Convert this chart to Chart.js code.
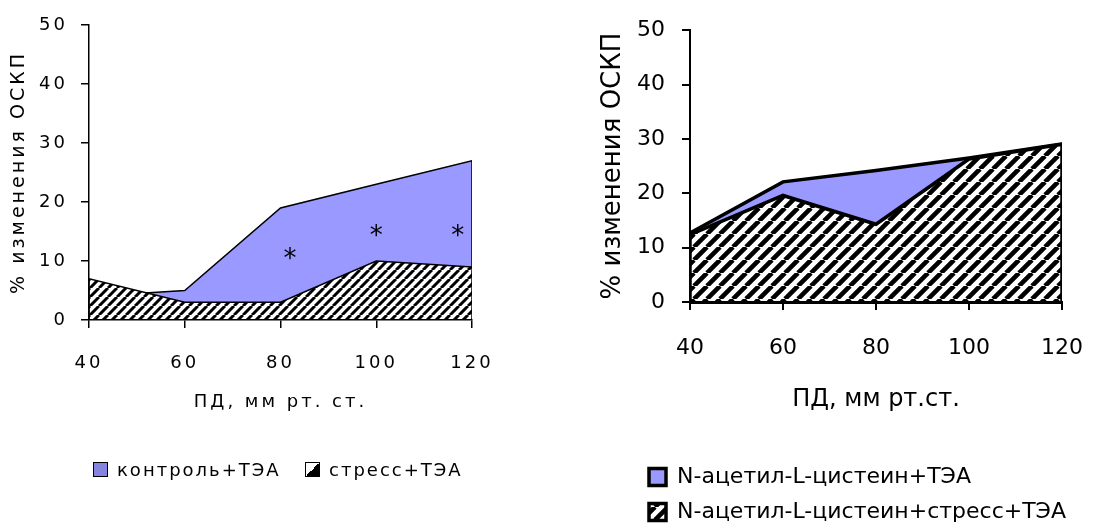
<!DOCTYPE html>
<html>
<head>
<meta charset="utf-8">
<title>% изменения ОСКП</title>
<script src="https://cdn.jsdelivr.net/npm/chart.js@4.4.1/dist/chart.umd.min.js"></script>
<style>
  html, body { margin: 0; padding: 0; background: #fff; }
  body { width: 1108px; height: 530px; position: relative; overflow: hidden; }
  canvas { position: absolute; top: 0; }
  #left { left: 0; }
  #right { left: 590px; }
  .legend-item {
    position: absolute; top: 459px; height: 20px;
    display: flex; align-items: center;
    font: 18px "DejaVu Sans"; letter-spacing: 2px; color: #000; white-space: nowrap;
  }
  .swatch { width: 13px; height: 13px; border: 1.5px solid #000; margin-right: 9px; flex: none; }
  .sw-control { background: #8585e0; }
  .sw-stress { background: linear-gradient(to top left, #000 50%, #fff 50%); }
</style>
</head>
<body>
<canvas id="left" width="520" height="530"></canvas>
<canvas id="right" width="518" height="530"></canvas>
<div class="legend-item" style="left:93px"><span class="swatch sw-control"></span><span id="lg0"></span></div>
<div class="legend-item" style="left:305px"><span class="swatch sw-stress"></span><span id="lg1"></span></div>
<script>
// ПД, мм рт. ст.
const pressure = [40, 60, 80, 100, 120];
const yTicks = [0, 10, 20, 30, 40, 50];

// левый график
const leftSeries = ['контроль+ТЭА', 'стресс+ТЭА'];
const controlTea = [4, 5, 19, 23, 27];
const stressTea = [7, 3, 3, 10, 9];
// звёздочки
const starX = [82, 100, 117];
const starY = [11.6, 15.6, 15.6];

// правый график
const rightSeries = ['N-ацетил-L-цистеин+ТЭА', 'N-ацетил-L-цистеин+стресс+ТЭА'];
const nacTea = [12.7, 22.1, 24.2, 26.5, 29.1];
const nacStressTea = [12.4, 19.6, 14.3, 26.3, 29];

const BLUE = '#9999ff';

// точки области + вертикальные края до нуля
function areaPoints(xs, ys) {
  const pts = xs.map((x, i) => ({ x, y: ys[i] }));
  return [{ x: xs[0], y: 0 }, ...pts, { x: xs[xs.length - 1], y: 0 }];
}

// штриховка ////
function hatch(size, lw) {
  const c = document.createElement('canvas');
  c.width = c.height = size;
  const g = c.getContext('2d');
  g.fillStyle = '#fff';
  g.fillRect(0, 0, size, size);
  g.strokeStyle = '#000';
  g.lineWidth = lw;
  g.beginPath();
  for (const x0 of [-size, 0, size]) {
    g.moveTo(x0, size);
    g.lineTo(x0 + size, 0);
  }
  g.stroke();
  return g.createPattern(c, 'repeat');
}

function ticksFrom(arr) {
  return s => { s.ticks = arr.map(v => ({ value: v })); };
}

const byIndex = (a, b) => a.datasetIndex - b.datasetIndex;

// --- левый ---
const leftFont = { family: '"DejaVu Sans"', size: 18 };
const spacing = {
  id: 'spacing',
  beforeUpdate(c) { c.ctx.letterSpacing = '3px'; },
  beforeDraw(c) { c.ctx.letterSpacing = '3px'; }
};
const stars = {
  id: 'stars',
  afterDatasetsDraw(chart) {
    const { ctx, scales: { x, y } } = chart;
    ctx.save();
    ctx.letterSpacing = '0px';
    ctx.font = '26px "DejaVu Sans"';
    ctx.fillStyle = '#000';
    ctx.textAlign = 'center';
    ctx.textBaseline = 'alphabetic';
    starX.forEach((v, i) => {
      ctx.fillText('*', x.getPixelForValue(v), y.getPixelForValue(starY[i]) + 26 * 0.6);
    });
    ctx.restore();
  }
};

document.getElementById('lg0').textContent = leftSeries[0];
document.getElementById('lg1').textContent = leftSeries[1];

new Chart(document.getElementById('left'), {
  type: 'line',
  data: {
    datasets: [{
      label: leftSeries[0],
      data: areaPoints(pressure, controlTea),
      backgroundColor: BLUE,
      borderColor: '#000',
      borderWidth: 1.5,
      fill: 'origin',
      order: 2
    }, {
      label: leftSeries[1],
      data: areaPoints(pressure, stressTea),
      backgroundColor: hatch(9, 3),
      borderColor: '#000',
      borderWidth: 1.5,
      fill: 'origin',
      order: 1
    }]
  },
  options: {
    responsive: false,
    animation: false,
    devicePixelRatio: 1,
    events: [],
    layout: { padding: { left: 0, top: 25, right: 48, bottom: 94 } },
    elements: { point: { radius: 0 }, line: { tension: 0 } },
    scales: {
      x: {
        type: 'linear', min: 40, max: 120,
        afterBuildTicks: ticksFrom(pressure),
        afterFit: s => { s.height = 116; },
        grid: { drawOnChartArea: false, tickLength: 8, color: '#000', lineWidth: 1.5 },
        border: { color: '#000', width: 1.5, z: 1 },
        ticks: { color: '#000', padding: 25, font: leftFont, maxRotation: 0, autoSkip: false },
        title: { display: true, text: 'ПД, мм рт. ст.', color: '#000', font: leftFont, padding: { top: 0, bottom: 23 } }
      },
      y: {
        min: 0, max: 50,
        afterBuildTicks: ticksFrom(yTicks),
        afterFit: s => { s.width = 89; },
        grid: { drawOnChartArea: false, tickLength: 8, color: '#000', lineWidth: 1.5 },
        border: { color: '#000', width: 1.5, z: 1 },
        ticks: { color: '#000', padding: 13, font: leftFont, autoSkip: false },
        title: { display: true, text: '% изменения ОСКП', color: '#000', font: { family: '"DejaVu Sans"', size: 19 }, padding: { top: 8, bottom: 0 } }
      }
    },
    plugins: {
      tooltip: { enabled: false },
      legend: { display: false }
    }
  },
  plugins: [spacing, stars]
});

// --- правый ---
const rightFont = { family: '"DejaVu Sans"', size: 22 };

new Chart(document.getElementById('right'), {
  type: 'line',
  data: {
    datasets: [{
      label: rightSeries[0],
      data: areaPoints(pressure, nacTea),
      backgroundColor: BLUE,
      borderColor: '#000',
      borderWidth: 3.5,
      fill: 'origin',
      order: 2
    }, {
      label: rightSeries[1],
      data: areaPoints(pressure, nacStressTea),
      backgroundColor: hatch(13, 4.6),
      borderColor: '#000',
      borderWidth: 3.5,
      fill: 'origin',
      order: 1
    }]
  },
  options: {
    responsive: false,
    animation: false,
    devicePixelRatio: 1,
    events: [],
    layout: { padding: { left: 46, top: 25, right: 25, bottom: 0 } },
    elements: { point: { radius: 0 }, line: { tension: 0 } },
    scales: {
      x: {
        type: 'linear', min: 40, max: 120,
        afterBuildTicks: ticksFrom(pressure),
        afterFit: s => { s.height = 151; },
        grid: { drawOnChartArea: false, tickLength: 8, color: '#000', lineWidth: 2 },
        border: { color: '#000', width: 3, z: 1 },
        ticks: { color: '#000', padding: 25, font: rightFont, maxRotation: 0, autoSkip: false },
        title: { display: true, text: 'ПД, мм рт.ст.', color: '#000', font: { family: '"DejaVu Sans"', size: 24 }, padding: { top: 0, bottom: 39 } }
      },
      y: {
        min: 0, max: 50,
        afterBuildTicks: ticksFrom(yTicks),
        afterFit: s => { s.width = 54; },
        grid: { drawOnChartArea: false, tickLength: 8, color: '#000', lineWidth: 2 },
        border: { color: '#000', width: 2, z: 1 },
        ticks: { color: '#000', padding: 17, font: rightFont, autoSkip: false },
        title: { display: true, text: '% изменения ОСКП', color: '#000', font: { family: '"DejaVu Sans"', size: 26 }, padding: { top: -38, bottom: 0 } }
      }
    },
    plugins: {
      tooltip: { enabled: false },
      legend: {
        position: 'bottom', align: 'start', maxHeight: 77,
        labels: { boxWidth: 17, boxHeight: 17, padding: 13, color: '#000', font: rightFont, sort: byIndex }
      }
    }
  }
});
</script>
</body>
</html>
